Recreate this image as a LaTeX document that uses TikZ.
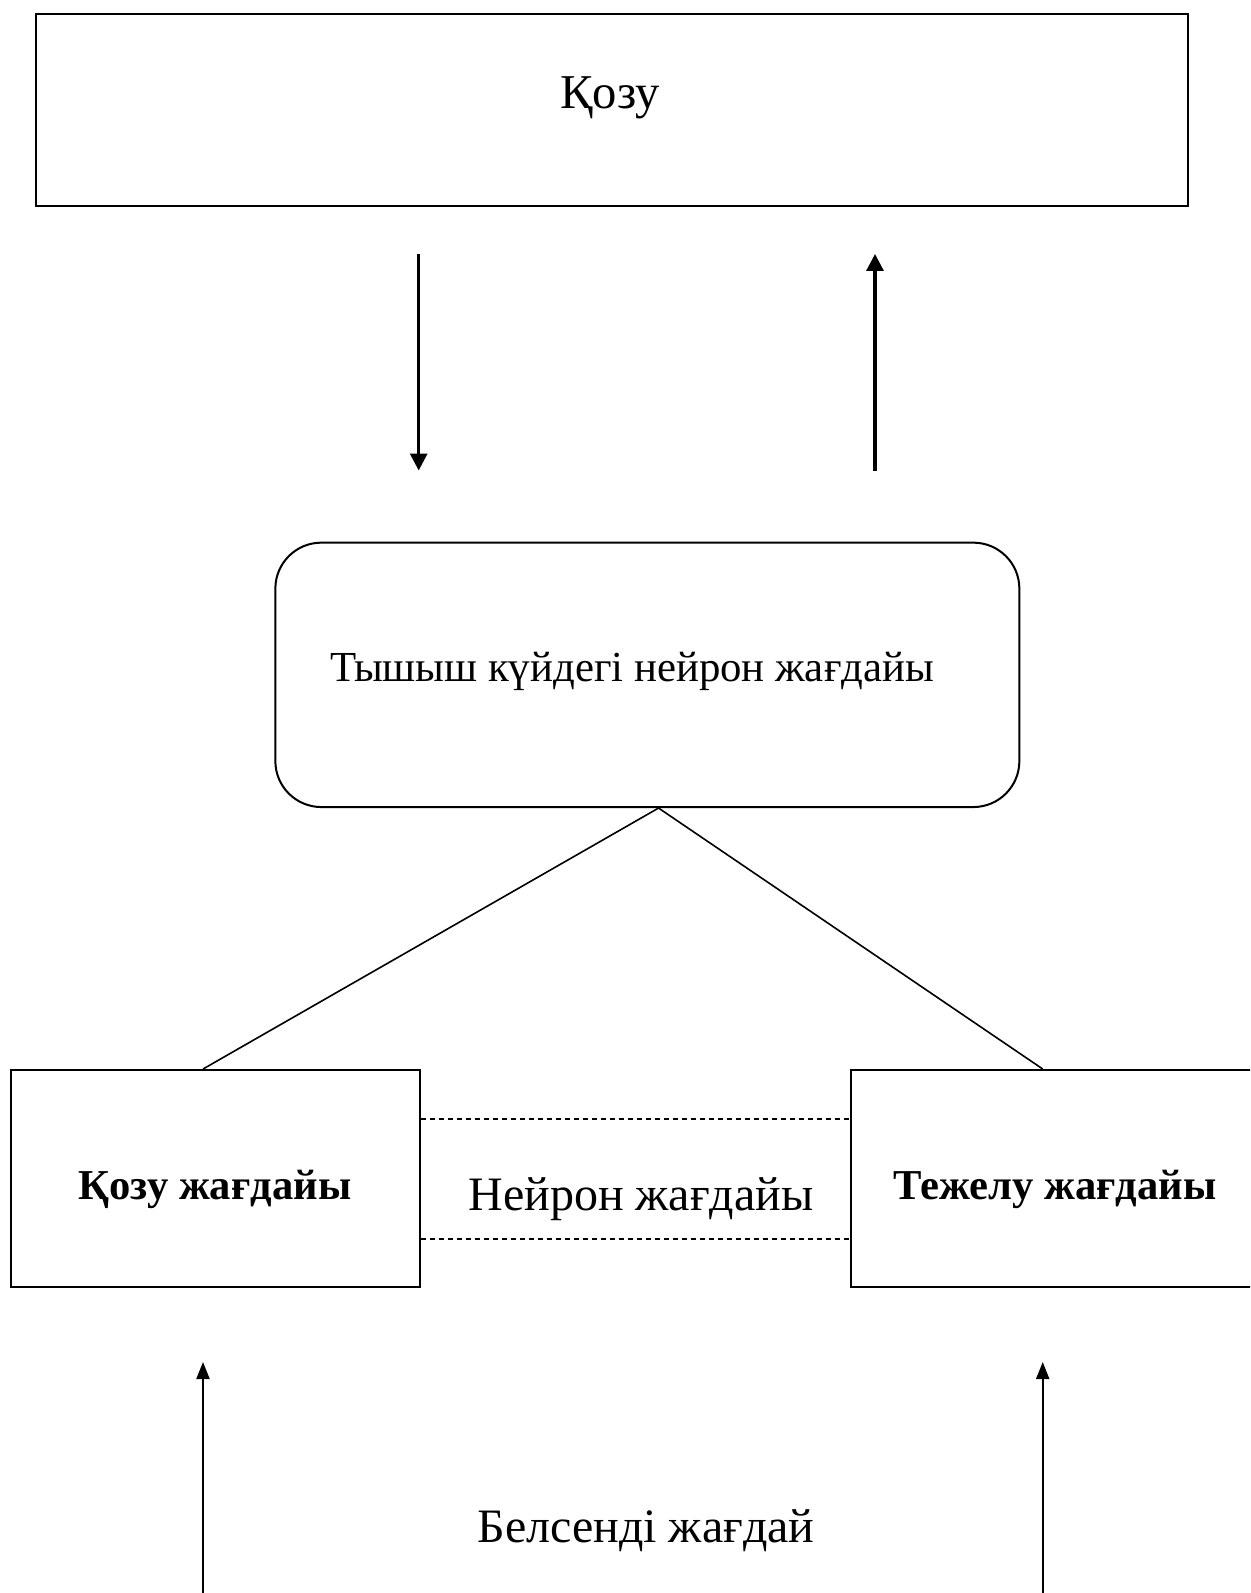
\documentclass[tikz,border=0pt]{standalone}
\usepackage{fontspec}
\setmainfont{Liberation Serif}
\usetikzlibrary{arrows.meta}
\begin{document}
\begin{tikzpicture}[x=0.5pt,y=-0.5pt,
  box/.style={draw,line width=1pt,inner sep=0pt},
  txt/.style={font=\fontsize{24}{28}\selectfont,inner sep=0pt},
  btxt/.style={font=\fontsize{21.3}{25}\selectfont\bfseries,inner sep=0pt},
  conn/.style={line width=0.8pt},
  toparrow/.style={line width=1.6pt,-{Triangle[width=8.5pt,length=8.5pt]}},
  botarrow/.style={line width=1pt,-{Triangle[width=6.5pt,length=8.5pt]}},
  dashline/.style={line width=0.6pt,dash pattern=on 2.5pt off 2pt}
]
\clip (0,0) rectangle (1250,1593);
\fill[white] (0,0) rectangle (1250,1593);

% boxes
\node[box,minimum width=576.2pt,minimum height=96pt] (top) at (611.8,110.25) {};
\node[txt,font=\fontsize{24.3}{28}\selectfont] (toptext) at (610,97.5) {Қозу};

\node[box,rounded corners=23pt,minimum width=372pt,minimum height=132.2pt] (rest) at (647.35,674.85) {};
\node[txt,font=\fontsize{21.4}{25}\selectfont] (resttext) at (632,671) {Тышыш күйдегі нейрон жағдайы};

\node[box,minimum width=204.25pt,minimum height=108.3pt] (lbox) at (215.45,1178.3) {};
\node[btxt] (ltext) at (215,1189) {Қозу жағдайы};

\node[box,minimum width=205.5pt,minimum height=108.3pt] (rbox) at (1056.5,1178.3) {};
\node[btxt] (rtext) at (1055,1189) {Тежелу жағдайы};

\node[txt] (mid) at (641,1199) {Нейрон жағдайы};
\node[txt] (active) at (646,1531) {Белсенді жағдай};

% arrows between top box and resting state
\coordinate (a1s) at (418.7,254);
\coordinate (a1e) at (418.7,470.5);
\coordinate (a2s) at (875,470.5);
\coordinate (a2e) at (875,254);
\draw[toparrow] (a1s) -- (a1e);
\draw[toparrow] (a2s) -- (a2e);

% branches
\coordinate (apex) at ([xshift=5.6pt]rest.south);
\draw[conn] (apex) -- ([xshift=-6.2pt]lbox.north);
\draw[conn] (apex) -- ([xshift=-6.9pt]rbox.north);

% dashed lines
\draw[dashline] ([yshift=29.65pt]lbox.east) -- ([yshift=29.65pt]rbox.west);
\draw[dashline] ([yshift=-30.35pt]lbox.east) -- ([yshift=-30.35pt]rbox.west);

% bottom arrows
\coordinate (b1s) at (203,1600);
\coordinate (b1e) at (203,1362);
\coordinate (b2s) at (1042.7,1600);
\coordinate (b2e) at (1042.7,1362);
\draw[botarrow] (b1s) -- (b1e);
\draw[botarrow] (b2s) -- (b2e);
\end{tikzpicture}
\end{document}
